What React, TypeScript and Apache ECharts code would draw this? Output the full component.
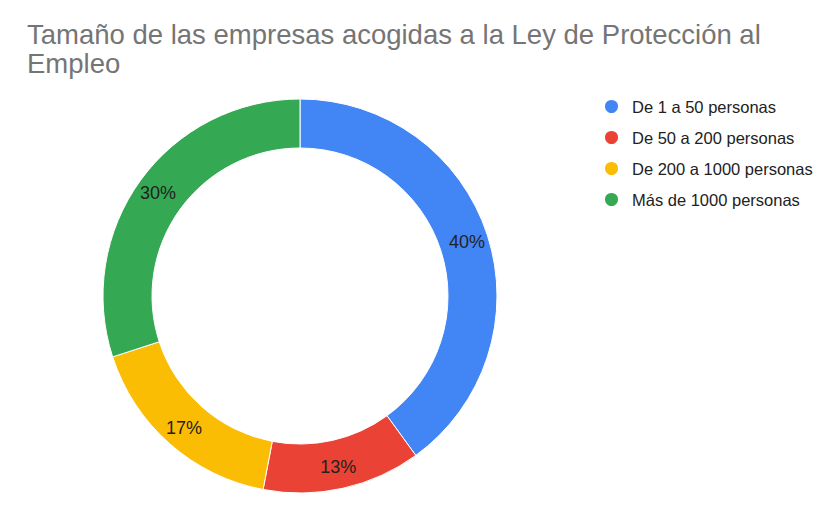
import React, { useEffect, useRef } from "react";
import * as echarts from "echarts";

const titleText = "Tamaño de las empresas acogidas a la Ley de Protección al\nEmpleo";
const categories = [
  "De 1 a 50 personas",
  "De 50 a 200 personas",
  "De 200 a 1000 personas",
  "Más de 1000 personas",
];
const values = [40, 13, 17, 30];
const colors = ["#4285F4", "#EA4335", "#FBBC04", "#34A853"];

export default function App() {
  const ref = useRef<HTMLDivElement>(null);
  useEffect(() => {
    if (!ref.current) return;
    const chart = echarts.init(ref.current, undefined, { renderer: "svg" });
    const total = values.reduce((a, b) => a + b, 0);
    chart.setOption({
      animation: false,
      backgroundColor: "#ffffff",
      color: colors,
      title: {
        text: titleText,
        left: 22,
        top: 15,
        textStyle: {
          fontFamily: "Liberation Sans, Arial, sans-serif",
          fontSize: 27.5,
          fontWeight: "normal",
          color: "#757575",
          lineHeight: 29,
        },
      },
      legend: {
        orient: "vertical",
        left: 603,
        top: 98,
        padding: 0,
        itemWidth: 15,
        itemHeight: 15,
        itemGap: 14,
        icon: "circle",
        data: categories,
        textStyle: {
          fontFamily: "Liberation Sans, Arial, sans-serif",
          fontSize: 16.5,
          lineHeight: 15,
          color: "#222222",
          padding: [0, 0, 0, 8],
        },
      },
      series: [
        {
          type: "pie",
          center: [300, 296],
          radius: [148, 197],
          startAngle: 90,
          clockwise: true,
          avoidLabelOverlap: false,
          itemStyle: { borderColor: "#ffffff", borderWidth: 1 },
          label: {
            show: true,
            position: "inside",
            formatter: (p: any) => Math.round((p.value / total) * 100) + "%",
            fontFamily: "Liberation Sans, Arial, sans-serif",
            fontSize: 18,
            color: "#222222",
          },
          labelLine: { show: false },
          emphasis: { disabled: true },
          data: categories.map((c, i) => ({ name: c, value: values[i] })),
        },
      ],
    });
    return () => chart.dispose();
  }, []);
  return (
    <div
      ref={ref}
      style={{ position: "absolute", left: 0, top: 0, width: 840, height: 519 }}
    />
  );
}
